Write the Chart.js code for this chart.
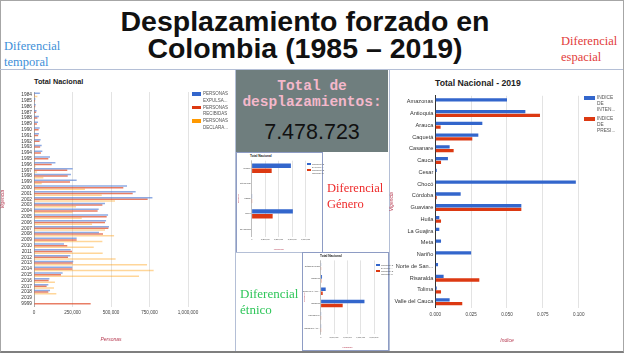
<!DOCTYPE html>
<html>
<head>
<meta charset="utf-8">
<script src="https://cdn.jsdelivr.net/npm/chart.js@4.4.1/dist/chart.umd.min.js"></script>
<style>
  body { margin: 0; width: 626px; height: 353px; overflow: hidden; background: #fff; position: relative; font-family: "Liberation Sans", Arial, sans-serif; }
  .abs { position: absolute; }
  .marco { position: absolute; left: 0; top: 0; width: 622px; height: 350px; border: 1px solid #a6a6a6; border-bottom: 2px solid #7f7f7f; }
  .titulo { left: 0; top: 8px; width: 610px; text-align: center; font-weight: bold; font-size: 28.5px; line-height: 27px; color: #111; }
  .serif { font-family: "Liberation Serif", "Times New Roman", serif; font-size: 12.5px; line-height: 16px; }
  .linea-h { position: absolute; height: 1px; background: #b4bfd6; }
  .linea-v { position: absolute; width: 1px; background: #b4bfd6; }
  .caja { position: absolute; left: 236px; top: 70px; width: 152px; height: 82px; background: #6f7e7e; text-align: center; }
  .panel { position: absolute; background: #fff; border: 1px solid #8e9cc4; box-sizing: border-box; }
  .ctitulo { position: absolute; font-weight: bold; color: #222; white-space: nowrap; }
  .leyenda { position: absolute; color: #555; white-space: nowrap; }
  .leyenda div { position: relative; }
  .leyenda span { position: absolute; left: 0; }
  canvas { position: absolute; }
</style>
</head>
<body>
<div class="marco"></div>

<div class="abs titulo">Desplazamiento forzado en<br>Colombia (1985 – 2019)</div>
<div class="abs serif" style="left:4px; top:38px; color:#3d8fd8;">Diferencial<br>temporal</div>
<div class="abs serif" style="left:561px; top:33px; color:#e23b3b;">Diferencial<br>espacial</div>

<div class="linea-h" style="left:0; top:69px; width:623px;"></div>
<div class="linea-v" style="left:235px; top:69px; height:282px;"></div>
<div class="linea-v" style="left:389px; top:69px; height:282px;"></div>

<div class="caja">
  <div style="font-family:'Liberation Mono',monospace; font-weight:bold; font-size:14.5px; line-height:16px; color:#f4b8cb; padding-top:8px;">Total de<br>desplazamientos:</div>
  <div style="font-size:21.5px; color:#111; margin-top:10px;">7.478.723</div>
</div>

<!-- grafico temporal -->
<div class="ctitulo" style="left:34px; top:77px; font-size:7.3px;">Total Nacional</div>
<canvas id="gTemporal" width="235" height="280" style="left:0; top:70px;"></canvas>
<div class="leyenda" style="left:192px; top:91px; font-size:4.5px; line-height:6.5px;">
  <div style="margin-bottom:0.5px;"><span style="top:1px; width:9px; height:3.5px; background:#3366cc;"></span><div style="padding-left:11px;">PERSONAS<br>EXPULSA...</div></div>
  <div style="margin-bottom:0.5px;"><span style="top:1px; width:9px; height:3.5px; background:#dc3912;"></span><div style="padding-left:11px;">PERSONAS<br>RECIBIDAS</div></div>
  <div><span style="top:1px; width:9px; height:3.5px; background:#ff9900;"></span><div style="padding-left:11px;">PERSONAS<br>DECLARA...</div></div>
</div>

<!-- grafico espacial -->
<div class="ctitulo" style="left:435px; top:78px; font-size:8.7px;">Total Nacional - 2019</div>
<canvas id="gEspacial" width="233" height="280" style="left:389px; top:70px;"></canvas>
<div class="leyenda" style="left:584px; top:95px; font-size:4.8px; line-height:6.2px;">
  <div style="margin-bottom:2px;"><span style="top:1px; width:11px; height:4px; background:#3366cc;"></span><div style="padding-left:13px;">INDICE<br>DE<br>INTEN...</div></div>
  <div><span style="top:1px; width:11px; height:4px; background:#dc3912;"></span><div style="padding-left:13px;">INDICE<br>DE<br>PRESI...</div></div>
</div>

<!-- genero -->
<div class="panel" style="left:236px; top:152px; width:87px; height:101px;"></div>
<div class="ctitulo" style="left:250px; top:154px; font-size:3.2px;">Total Nacional</div>
<canvas id="gGenero" width="85" height="99" style="left:237px; top:153px;"></canvas>
<div class="leyenda" style="left:307px; top:163px; font-size:2.2px; line-height:2.6px;">
  <div style="margin-bottom:1px;"><span style="top:0; width:4px; height:2px; background:#3366cc;"></span><div style="padding-left:5px;">PERSONAS<br>EXPULSA...</div></div>
  <div><span style="top:0; width:4px; height:2px; background:#dc3912;"></span><div style="padding-left:5px;">PERSONAS<br>RECIBIDAS</div></div>
</div>
<div class="abs serif" style="left:327px; top:180px; color:#ee2b2b;">Diferencial<br>Género</div>

<div class="linea-h" style="left:236px; top:252px; width:153px;"></div>

<!-- etnico -->
<div class="abs serif" style="left:240px; top:286px; color:#2fc65a; font-size:13px;">Diferencial<br>étnico</div>
<div class="panel" style="left:302px; top:252px; width:87px; height:99px;"></div>
<div class="ctitulo" style="left:320px; top:254px; font-size:3.2px;">Total Nacional</div>
<canvas id="gEtnico" width="85" height="97" style="left:303px; top:253px;"></canvas>
<div class="leyenda" style="left:376px; top:264px; font-size:2.2px; line-height:2.6px;">
  <div style="margin-bottom:1px;"><span style="top:0; width:4px; height:2px; background:#3366cc;"></span><div style="padding-left:5px;">PERSONAS<br>EXPULSA...</div></div>
  <div><span style="top:0; width:4px; height:2px; background:#dc3912;"></span><div style="padding-left:5px;">PERSONAS<br>RECIBIDAS</div></div>
</div>

<script>
// ---- datos: diferencial temporal ----
const vigencias = ['1984', '1985', '1986', '1987', '1988', '1989', '1990', '1991', '1992', '1993',
  '1994', '1995', '1996', '1997', '1998', '1999', '2000', '2001', '2002', '2003', '2004', '2005',
  '2006', '2007', '2008', '2009', '2010', '2011', '2012', '2013', '2014', '2015', '2016', '2017',
  '2018', '2019', '9999'];
const personasExpulsadas = [38000, 9000, 11000, 17000, 32000, 26000, 37000, 32000, 43000, 50000,
  54000, 104000, 139000, 251000, 240000, 277000, 604000, 660000, 769000, 461000, 420000, 481000,
  468000, 487000, 422000, 277000, 195000, 238000, 236000, 255000, 249000, 186000, 100000, 93000,
  104000, 3000, 0];
const personasRecibidas = [5000, 7000, 8000, 14000, 22000, 19000, 30000, 27000, 36000, 40000,
  45000, 93000, 115000, 216000, 219000, 234000, 580000, 641000, 738000, 444000, 413000, 472000,
  461000, 483000, 448000, 277000, 216000, 247000, 221000, 251000, 249000, 175000, 95000, 82000,
  93000, 2000, 368000];
const personasDeclaradas = [22000, 2000, 2000, 3000, 4000, 4000, 5000, 5000, 6000, 6000,
  7000, 8000, 10000, 20000, 61000, 50000, 331000, 440000, 526000, 273000, 251000, 310000,
  377000, 461000, 520000, 444000, 388000, 446000, 530000, 734000, 777000, 682000, 136000, 130000,
  145000, 1000, 0];

// ---- datos: diferencial espacial (2019) ----
const departamentos = ['Amazonas', 'Antioquia', 'Arauca', 'Caquetá', 'Casanare', 'Cauca', 'Cesar',
  'Chocó', 'Córdoba', 'Guaviare', 'Huila', 'La Guajira', 'Meta', 'Nariño', 'Norte de San...',
  'Risaralda', 'Tolima', 'Valle del Cauca'];
const indiceIntensidad = [0.050, 0.0628, 0.0328, 0.030, 0.010, 0.0088, 0.001, 0.098, 0.0177, 0.060,
  0.0028, 0.0028, 0.004, 0.025, 0.0019, 0.0058, 0.001, 0.010];
const indicePresion = [0, 0.073, 0.0037, 0.0258, 0.0128, 0.004, 0, 0, 0.001, 0.060,
  0.004, 0, 0, 0, 0, 0.0307, 0.004, 0.0188];

// ---- datos: genero y etnia ----
const generos = ['Hombre', 'Intersexual', 'LGBTI', 'Mujer', 'No Informa'];
const generoExpulsadas = [3630000, 0, 5000, 3810000, 0];
const generoRecibidas = [1850000, 0, 3000, 1940000, 0];

const etnias = ['Gitano(a) ROM', 'Indígena', 'Negro(a) o Afro...', 'Ninguna', 'Palenquero', 'Raizal del Arc...'];
const etniaExpulsadas = [30000, 200000, 750000, 6570000, 5000, 8000];
const etniaRecibidas = [15000, 100000, 300000, 3300000, 2000, 3000];

const AZUL = '#3366cc';
const ROJO = '#dc3912';
const COLOR_TITULO_EJE = '#b5384f';

function miles(v) {
  return Number(v).toLocaleString('en-US');
}

// arma un grafico de barras horizontales con el area de trazado fija
function barrasHorizontales(id, etiquetas, series, cfg) {
  const ctx = document.getElementById(id).getContext('2d');
  return new Chart(ctx, {
    type: 'bar',
    data: {
      labels: etiquetas,
      datasets: series.map(s => ({
        label: s.nombre,
        data: s.datos,
        backgroundColor: s.color,
        borderWidth: 0,
        barPercentage: cfg.barPct,
        categoryPercentage: cfg.catPct
      }))
    },
    options: {
      indexAxis: 'y',
      responsive: false,
      animation: false,
      layout: { padding: cfg.padding },
      plugins: { legend: { display: false }, tooltip: { enabled: false } },
      scales: {
        x: {
          min: 0,
          max: cfg.max,
          afterFit: s => { s.height = cfg.altoX; },
          afterBuildTicks: s => {
            const t = [];
            for (let v = 0; v <= cfg.max + 1e-9; v += cfg.paso) t.push({ value: v });
            s.ticks = t;
          },
          ticks: {
            color: '#444',
            font: { size: cfg.fuenteTick, family: 'Liberation Sans' },
            padding: cfg.padTick,
            maxRotation: 0,
            callback: cfg.formato
          },
          grid: { color: '#dcdcdc', drawTicks: false, lineWidth: 0.8 },
          border: { display: false },
          title: {
            display: true,
            text: cfg.tituloX,
            color: COLOR_TITULO_EJE,
            font: { size: cfg.fuenteTitulo, style: 'italic', family: 'Liberation Sans' },
            padding: 0
          }
        },
        y: {
          afterFit: s => { s.width = cfg.anchoY; },
          ticks: {
            autoSkip: false,
            color: '#333',
            font: { size: cfg.fuenteTickY, family: 'Liberation Sans' },
            padding: cfg.padTickY
          },
          grid: { display: false, drawTicks: false },
          border: { display: true, color: cfg.colorCero, width: cfg.anchoCero },
          title: {
            display: true,
            text: 'Vigencia',
            color: COLOR_TITULO_EJE,
            font: { size: cfg.fuenteTitulo, style: 'italic', family: 'Liberation Sans' },
            padding: 0
          }
        }
      }
    }
  });
}

barrasHorizontales('gTemporal', vigencias, [
  { nombre: 'PERSONAS EXPULSADAS', datos: personasExpulsadas, color: 'rgba(51,102,204,0.55)' },
  { nombre: 'PERSONAS RECIBIDAS', datos: personasRecibidas, color: 'rgba(220,57,18,0.65)' },
  { nombre: 'PERSONAS DECLARADAS', datos: personasDeclaradas, color: 'rgba(255,153,0,0.4)' }
], {
  max: 1000000, paso: 250000, formato: v => miles(v),
  padding: { left: 0, right: 47, top: 22, bottom: 7 },
  anchoY: 34, altoX: 36.4,
  barPct: 0.9, catPct: 0.85,
  fuenteTick: 4.6, fuenteTickY: 4.8, fuenteTitulo: 5, padTick: 3, padTickY: 2,
  tituloX: 'Personas', colorCero: '#9a9a9a', anchoCero: 0.8
});

barrasHorizontales('gEspacial', departamentos, [
  { nombre: 'INDICE DE INTENSIDAD', datos: indiceIntensidad, color: AZUL },
  { nombre: 'INDICE DE PRESION', datos: indicePresion, color: ROJO }
], {
  max: 0.1, paso: 0.025, formato: v => Number(v).toFixed(3),
  padding: { left: 0, right: 43.3, top: 25.8, bottom: 6 },
  anchoY: 46.3, altoX: 36.4,
  barPct: 0.9, catPct: 0.62,
  fuenteTick: 4.6, fuenteTickY: 5.6, fuenteTitulo: 5, padTick: 4, padTickY: 2,
  tituloX: 'Indice', colorCero: '#333', anchoCero: 1
});

barrasHorizontales('gGenero', generos, [
  { nombre: 'PERSONAS EXPULSADAS', datos: generoExpulsadas, color: AZUL },
  { nombre: 'PERSONAS RECIBIDAS', datos: generoRecibidas, color: ROJO }
], {
  max: 5000000, paso: 1250000, formato: v => miles(v),
  padding: { left: 0, right: 16.3, top: 7.7, bottom: 1 },
  anchoY: 14.7, altoX: 14.4,
  barPct: 0.9, catPct: 0.65,
  fuenteTick: 2, fuenteTickY: 2.2, fuenteTitulo: 2.4, padTick: 1.5, padTickY: 1,
  tituloX: 'Personas', colorCero: '#999', anchoCero: 0.5
});

barrasHorizontales('gEtnico', etnias, [
  { nombre: 'PERSONAS EXPULSADAS', datos: etniaExpulsadas, color: AZUL },
  { nombre: 'PERSONAS RECIBIDAS', datos: etniaRecibidas, color: ROJO }
], {
  max: 8000000, paso: 2000000, formato: v => miles(v),
  padding: { left: 0, right: 14, top: 7.4, bottom: 1 },
  anchoY: 17.7, altoX: 14.7,
  barPct: 0.9, catPct: 0.65,
  fuenteTick: 2, fuenteTickY: 2.2, fuenteTitulo: 2.4, padTick: 1.5, padTickY: 1,
  tituloX: 'Personas', colorCero: '#999', anchoCero: 0.5
});
</script>
</body>
</html>
